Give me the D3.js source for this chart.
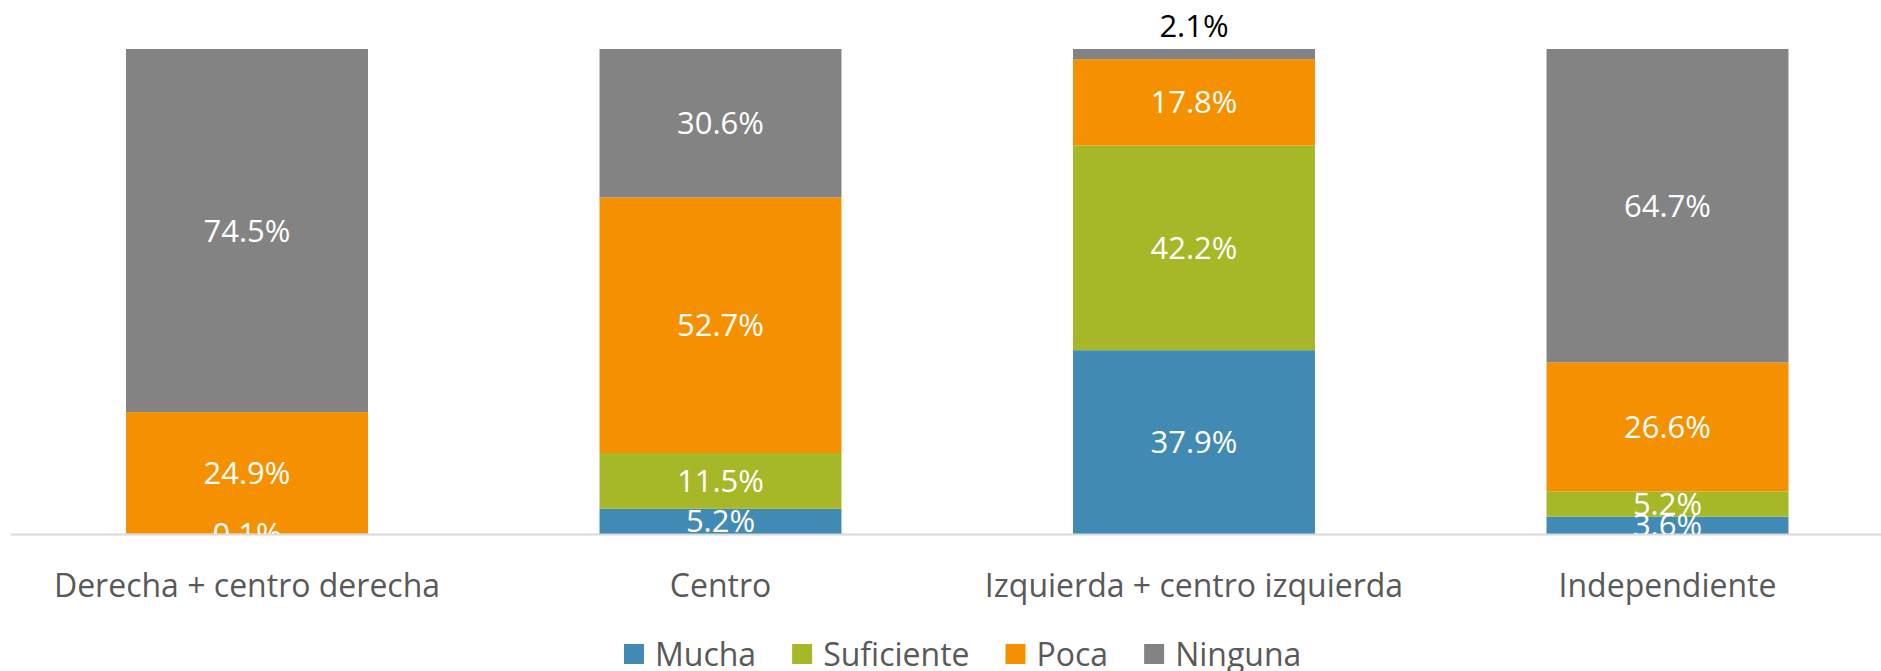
<!DOCTYPE html>
<html>
<head>
<meta charset="utf-8">
<script src="https://cdn.jsdelivr.net/npm/d3@7"></script>
<style>
  body { margin: 0; background: #fff; }
  svg { display: block; }
</style>
</head>
<body>
<div id="chart"></div>
<script>
// chart data
const categories = ['Derecha + centro derecha', 'Centro', 'Izquierda + centro izquierda', 'Independiente'];
const seriesNames = ['Mucha', 'Suficiente', 'Poca', 'Ninguna'];
const mucha = [0, 5.2, 37.9, 3.6];
const suficiente = [0.1, 11.5, 42.2, 5.2];
const poca = [24.9, 52.7, 17.8, 26.6];
const ninguna = [74.5, 30.6, 2.1, 64.7];
const colors = ['#418ab3', '#a6b727', '#f59100', '#838383'];

const width = 1881, height = 671;
const margin = { top: 49, bottom: 137 };
const baseY = height - margin.bottom;
const font = '"Open Sans", "DejaVu Sans", sans-serif';

const rows = categories.map((c, i) => ({
  category: c,
  Mucha: mucha[i],
  Suficiente: suficiente[i],
  Poca: poca[i],
  Ninguna: ninguna[i]
}));

const stacked = d3.stack()
  .keys(seriesNames)
  .offset(d3.stackOffsetExpand)(rows);

const svg = d3.select('#chart')
  .append('svg')
  .attr('width', width)
  .attr('height', height);

const x = d3.scaleBand()
  .domain(categories)
  .range([10.25, 1904.25])
  .paddingInner(0.489)
  .paddingOuter(0.2445);

const y = d3.scaleLinear()
  .domain([0, 1])
  .range([baseY, margin.top]);

svg.append('defs').append('clipPath')
  .attr('id', 'plotClip')
  .append('rect')
  .attr('x', 0).attr('y', 0)
  .attr('width', width).attr('height', baseY);

// bars
const layers = svg.append('g')
  .selectAll('g')
  .data(stacked)
  .enter().append('g')
  .attr('fill', (d, i) => colors[i]);

layers.selectAll('rect')
  .data(d => d)
  .enter().append('rect')
  .attr('x', d => x(d.data.category))
  .attr('y', d => y(d[1]))
  .attr('width', x.bandwidth())
  .attr('height', d => y(d[0]) - y(d[1]));

// axis
const axis = svg.append('g')
  .attr('transform', `translate(0, ${baseY})`)
  .call(d3.axisBottom(x).tickSize(0).tickSizeOuter(0).tickPadding(40));

axis.select('.domain')
  .attr('stroke', '#d9d9d9')
  .attr('stroke-width', 2);

axis.selectAll('text')
  .attr('font-family', font)
  .attr('font-size', 32)
  .attr('fill', '#595959');

// data labels (small top segment goes above the bar)
const labelSize = 31;
const labels = svg.append('g')
  .attr('font-family', font)
  .attr('font-size', labelSize)
  .attr('text-anchor', 'middle');

stacked.forEach((layer, si) => {
  layer.forEach(d => {
    const val = d.data[layer.key];
    if (!val) return;
    const top = y(d[1]), bot = y(d[0]);
    const cx = x(d.data.category) + x.bandwidth() / 2;
    const outside = si === seriesNames.length - 1 && bot - top < 20;
    const cy = outside ? top - 23 : (top + bot) / 2;
    labels.append('text')
      .attr('x', cx)
      .attr('y', cy + labelSize * 0.357)
      .attr('fill', outside ? '#000' : '#fff')
      .attr('clip-path', outside ? null : 'url(#plotClip)')
      .text(val.toFixed(1) + '%');
  });
});

// legend
const legend = svg.append('g')
  .attr('font-family', font)
  .attr('font-size', 32)
  .attr('fill', '#595959');

let lx = 624;
seriesNames.forEach((name, i) => {
  legend.append('rect')
    .attr('x', lx)
    .attr('y', 644)
    .attr('width', 20)
    .attr('height', 20)
    .attr('fill', colors[i]);
  lx += 31;
  const t = legend.append('text')
    .attr('x', lx)
    .attr('y', 666)
    .text(name);
  lx += t.node().getComputedTextLength() + 36;
});
</script>
</body>
</html>
